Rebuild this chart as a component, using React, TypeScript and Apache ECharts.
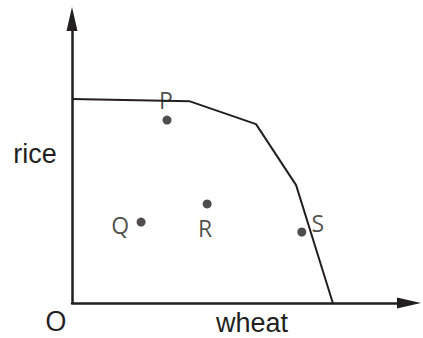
import React, { useEffect, useRef } from "react";
import * as echarts from "echarts";

// Production possibility frontier (wheat on x, rice on y), 0..100 scale
const frontierWheat = [0, 35.0, 54.6, 66.5, 77.4];
const frontierRice = [71.8, 71.0, 63.0, 41.5, 0];

const pointNames = ["P", "Q", "R", "S"];
const pointWheat = [28.2, 20.5, 40.1, 68.2];
const pointRice = [64.4, 28.5, 34.9, 25.0];

const xAxisName = "wheat";
const yAxisName = "rice";
const originName = "O";

const labelOffsets: Record<string, [number, number]> = {
  P: [-1, -20],
  Q: [-21, 3],
  R: [-2, 24],
  S: [16, -9],
};

const INK = "#231f20";

export default function App() {
  const ref = useRef<HTMLDivElement>(null);
  useEffect(() => {
    if (!ref.current) return;
    const chart = echarts.init(ref.current, undefined, { renderer: "svg" });
    const axisCommon = {
      type: "value" as const,
      min: 0,
      max: 100,
      axisLabel: { show: false },
      axisTick: { show: false },
      splitLine: { show: false },
      axisLine: {
        show: true,
        symbol: ["none", "triangle"],
        symbolSize: [11, 24],
        lineStyle: { color: INK, width: 2.5 },
      },
    };
    chart.setOption({
      animation: false,
      grid: { left: 72, right: 14, top: 19, bottom: 35 },
      xAxis: { ...axisCommon },
      yAxis: { ...axisCommon },
      graphic: [
        {
          type: "text",
          x: 35,
          y: 154,
          style: {
            text: yAxisName,
            font: "27px 'Liberation Sans', Arial, sans-serif",
            fill: INK,
            align: "center",
            verticalAlign: "middle",
          },
        },
        {
          type: "text",
          x: 252,
          y: 323,
          style: {
            text: xAxisName,
            font: "27px 'Liberation Sans', Arial, sans-serif",
            fill: INK,
            align: "center",
            verticalAlign: "middle",
          },
        },
        {
          type: "text",
          x: 56,
          y: 320,
          style: {
            text: originName,
            font: "28px 'Open Sans', sans-serif",
            fill: INK,
            align: "center",
            verticalAlign: "middle",
          },
        },
      ],
      series: [
        {
          type: "line",
          data: frontierWheat.map((x, i) => [x, frontierRice[i]]),
          symbol: "none",
          lineStyle: { color: INK, width: 2 },
          silent: true,
        },
        {
          type: "scatter",
          symbolSize: 9,
          itemStyle: { color: INK },
          data: pointNames.map((n, i) => ({
            name: n,
            value: [pointWheat[i], pointRice[i]],
            label: {
              show: true,
              position: "inside",
              offset: labelOffsets[n],
              formatter: n,
              color: INK,
              fontSize: 23,
              fontFamily: "'Open Sans', sans-serif",
              align: "center",
              verticalAlign: "middle",
            },
          })),
        },
      ],
    });
    return () => chart.dispose();
  }, []);
  return (
    <div
      ref={ref}
      style={{ position: "absolute", left: 0, top: 0, width: 423, height: 338 }}
    />
  );
}
